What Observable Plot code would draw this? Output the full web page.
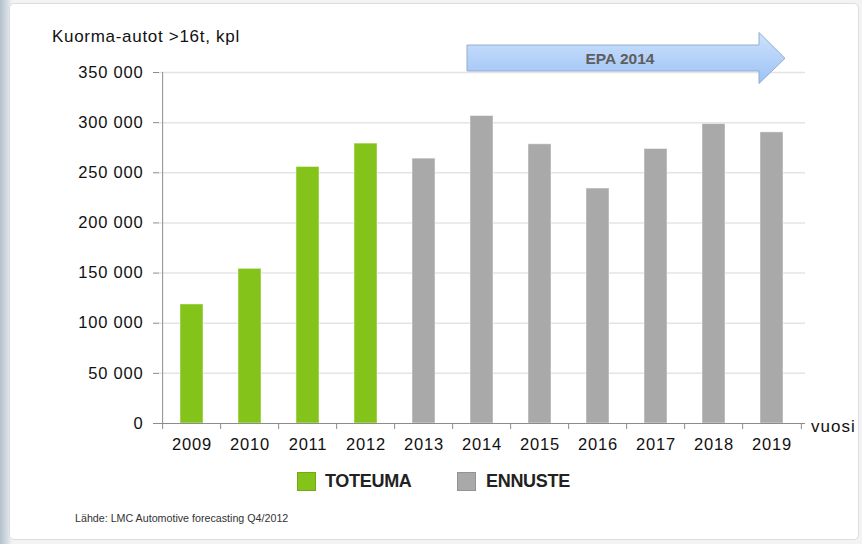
<!DOCTYPE html>
<html><head><meta charset="utf-8">
<script src="https://cdn.jsdelivr.net/npm/d3@7"></script>
<script src="https://cdn.jsdelivr.net/npm/@observablehq/plot@0.6"></script>
<style>
html,body{margin:0;padding:0;width:862px;height:544px;overflow:hidden}
body{position:relative;background:linear-gradient(to right,#b3bfcb 0px,#d9e0e6 8px,#f2f3f4 12px);font-family:"Liberation Sans",Arial,sans-serif}
#panel{position:absolute;left:9px;top:3px;width:848px;height:535px;background:#fff;border:1px solid #dcdcdc;border-radius:5px}
#chart{position:absolute;left:0;top:0}
#chart svg g[aria-label="y-axis tick"] path,#chart svg g[aria-label="y-axis"] .tick line{stroke:#8c8c8c}
.abs{position:absolute;white-space:nowrap}
#title{left:52px;top:27px;font-size:17px;letter-spacing:0.7px;color:#111}
#vuosi{left:811px;top:417px;font-size:17px;letter-spacing:1px;color:#111}
.sw{position:absolute;width:19px;height:19px;box-sizing:border-box}
.lt{position:absolute;font-family:"Liberation Sans Narrow","Arial Narrow","Liberation Sans",sans-serif;font-weight:bold;font-size:18px;letter-spacing:-0.3px;color:#222}
#caption{left:75px;top:512px;font-family:"Liberation Sans Narrow","Arial Narrow","Liberation Sans",sans-serif;font-size:10.7px;color:#333}
</style></head>
<body>
<div id="panel"></div>
<div id="chart"></div>
<div id="title" class="abs"></div>
<div id="vuosi" class="abs"></div>
<div id="legend"></div>
<div id="caption" class="abs"></div>
<svg class="abs" style="left:460px;top:28px" width="332" height="60">
<defs><linearGradient id="ag" x1="0" y1="0" x2="0" y2="1"><stop offset="0" stop-color="#cfe2fc"/><stop offset="1" stop-color="#9bc2f5"/></linearGradient></defs>
<polygon points="7,17 299,17 299,4.5 325,30.3 299,55.5 299,43 7,43" fill="url(#ag)" stroke="#93acd0" stroke-width="1"/>
<text id="arrowText" x="160" y="35.5" text-anchor="middle" font-family="Liberation Sans, Arial, sans-serif" font-weight="bold" font-size="15.5" fill="#5e5e5e"></text>
</svg>
<script>
// ---- data ----
const years = ["2009","2010","2011","2012","2013","2014","2015","2016","2017","2018","2019"];
const values = [118700,154200,255800,279100,264100,306600,278400,234300,273700,298600,290300];
const kinds = ["TOTEUMA","TOTEUMA","TOTEUMA","TOTEUMA","ENNUSTE","ENNUSTE","ENNUSTE","ENNUSTE","ENNUSTE","ENNUSTE","ENNUSTE"];
const yTicks = [0,50000,100000,150000,200000,250000,300000,350000];
const legendLabels = ["TOTEUMA","ENNUSTE"];
const legendColors = ["#84c41a","#a9a9a9"];
const titleText = "Kuorma-autot >16t, kpl";
const xAxisLabel = "vuosi";
const arrowLabel = "EPA 2014";
const captionText = "Lähde: LMC Automotive forecasting Q4/2012";

const data = years.map((y,i)=>({year:y,value:values[i],kind:kinds[i]}));
const W=862,H=544,ML=159,MR=57,MT=72,MB=121;
const step=(W-ML-MR)/years.length;
const fmt=d3.formatLocale({thousands:"\u00a0",grouping:[3],decimal:","}).format(",");
const axisColor="#8c8c8c";

const plot = Plot.plot({
  width:W,height:H,marginLeft:ML,marginRight:MR,marginTop:MT,marginBottom:MB,
  style:{background:"transparent",fontFamily:'"Liberation Sans",Arial,sans-serif',fontSize:"16.5px",color:"#111",overflow:"visible",letterSpacing:"0.8px"},
  x:{domain:years,paddingInner:0.6,paddingOuter:0.3,tickSize:0,tickPadding:15,label:null},
  y:{domain:[0,350000],ticks:yTicks,tickSize:6,tickPadding:10,tickFormat:fmt,label:null},
  color:{domain:legendLabels,range:legendColors},
  marks:[
    Plot.ruleY(yTicks.slice(1),{stroke:"#e4e4e4",strokeWidth:1.5}),
    Plot.barY(data,{x:"year",y:"value",fill:"kind",stroke:"#fff",strokeOpacity:0.45,strokeWidth:1}),
    Plot.ruleY([0],{stroke:axisColor}),
    Plot.ruleX([years[0]],{y1:0,y2:350000,dx:-step/2,stroke:axisColor}),
    Plot.ruleX(years,{y1:0,y2:0,insetBottom:-6,dx:-step/2,stroke:axisColor}),
    Plot.ruleX([years[years.length-1]],{y1:0,y2:0,insetBottom:-6,dx:step/2,stroke:axisColor})
  ]
});
document.getElementById("chart").appendChild(plot);
document.getElementById("title").textContent=titleText;
document.getElementById("vuosi").textContent=xAxisLabel;
document.getElementById("arrowText").textContent=arrowLabel;
document.getElementById("caption").textContent=captionText;

const lg=document.getElementById("legend");
const legendPos=[{sx:297,tx:325},{sx:457,tx:486}];
legendLabels.forEach((lab,i)=>{
  const sw=document.createElement("div");
  sw.className="sw";
  sw.style.left=legendPos[i].sx+"px";sw.style.top="472px";
  sw.style.background=plot.scale("color").apply(lab);
  sw.style.border="1px solid "+d3.color(plot.scale("color").apply(lab)).darker(0.4);
  lg.appendChild(sw);
  const t=document.createElement("div");
  t.className="lt";t.textContent=lab;
  t.style.left=legendPos[i].tx+"px";t.style.top="471px";
  lg.appendChild(t);
});
</script>
</body></html>
